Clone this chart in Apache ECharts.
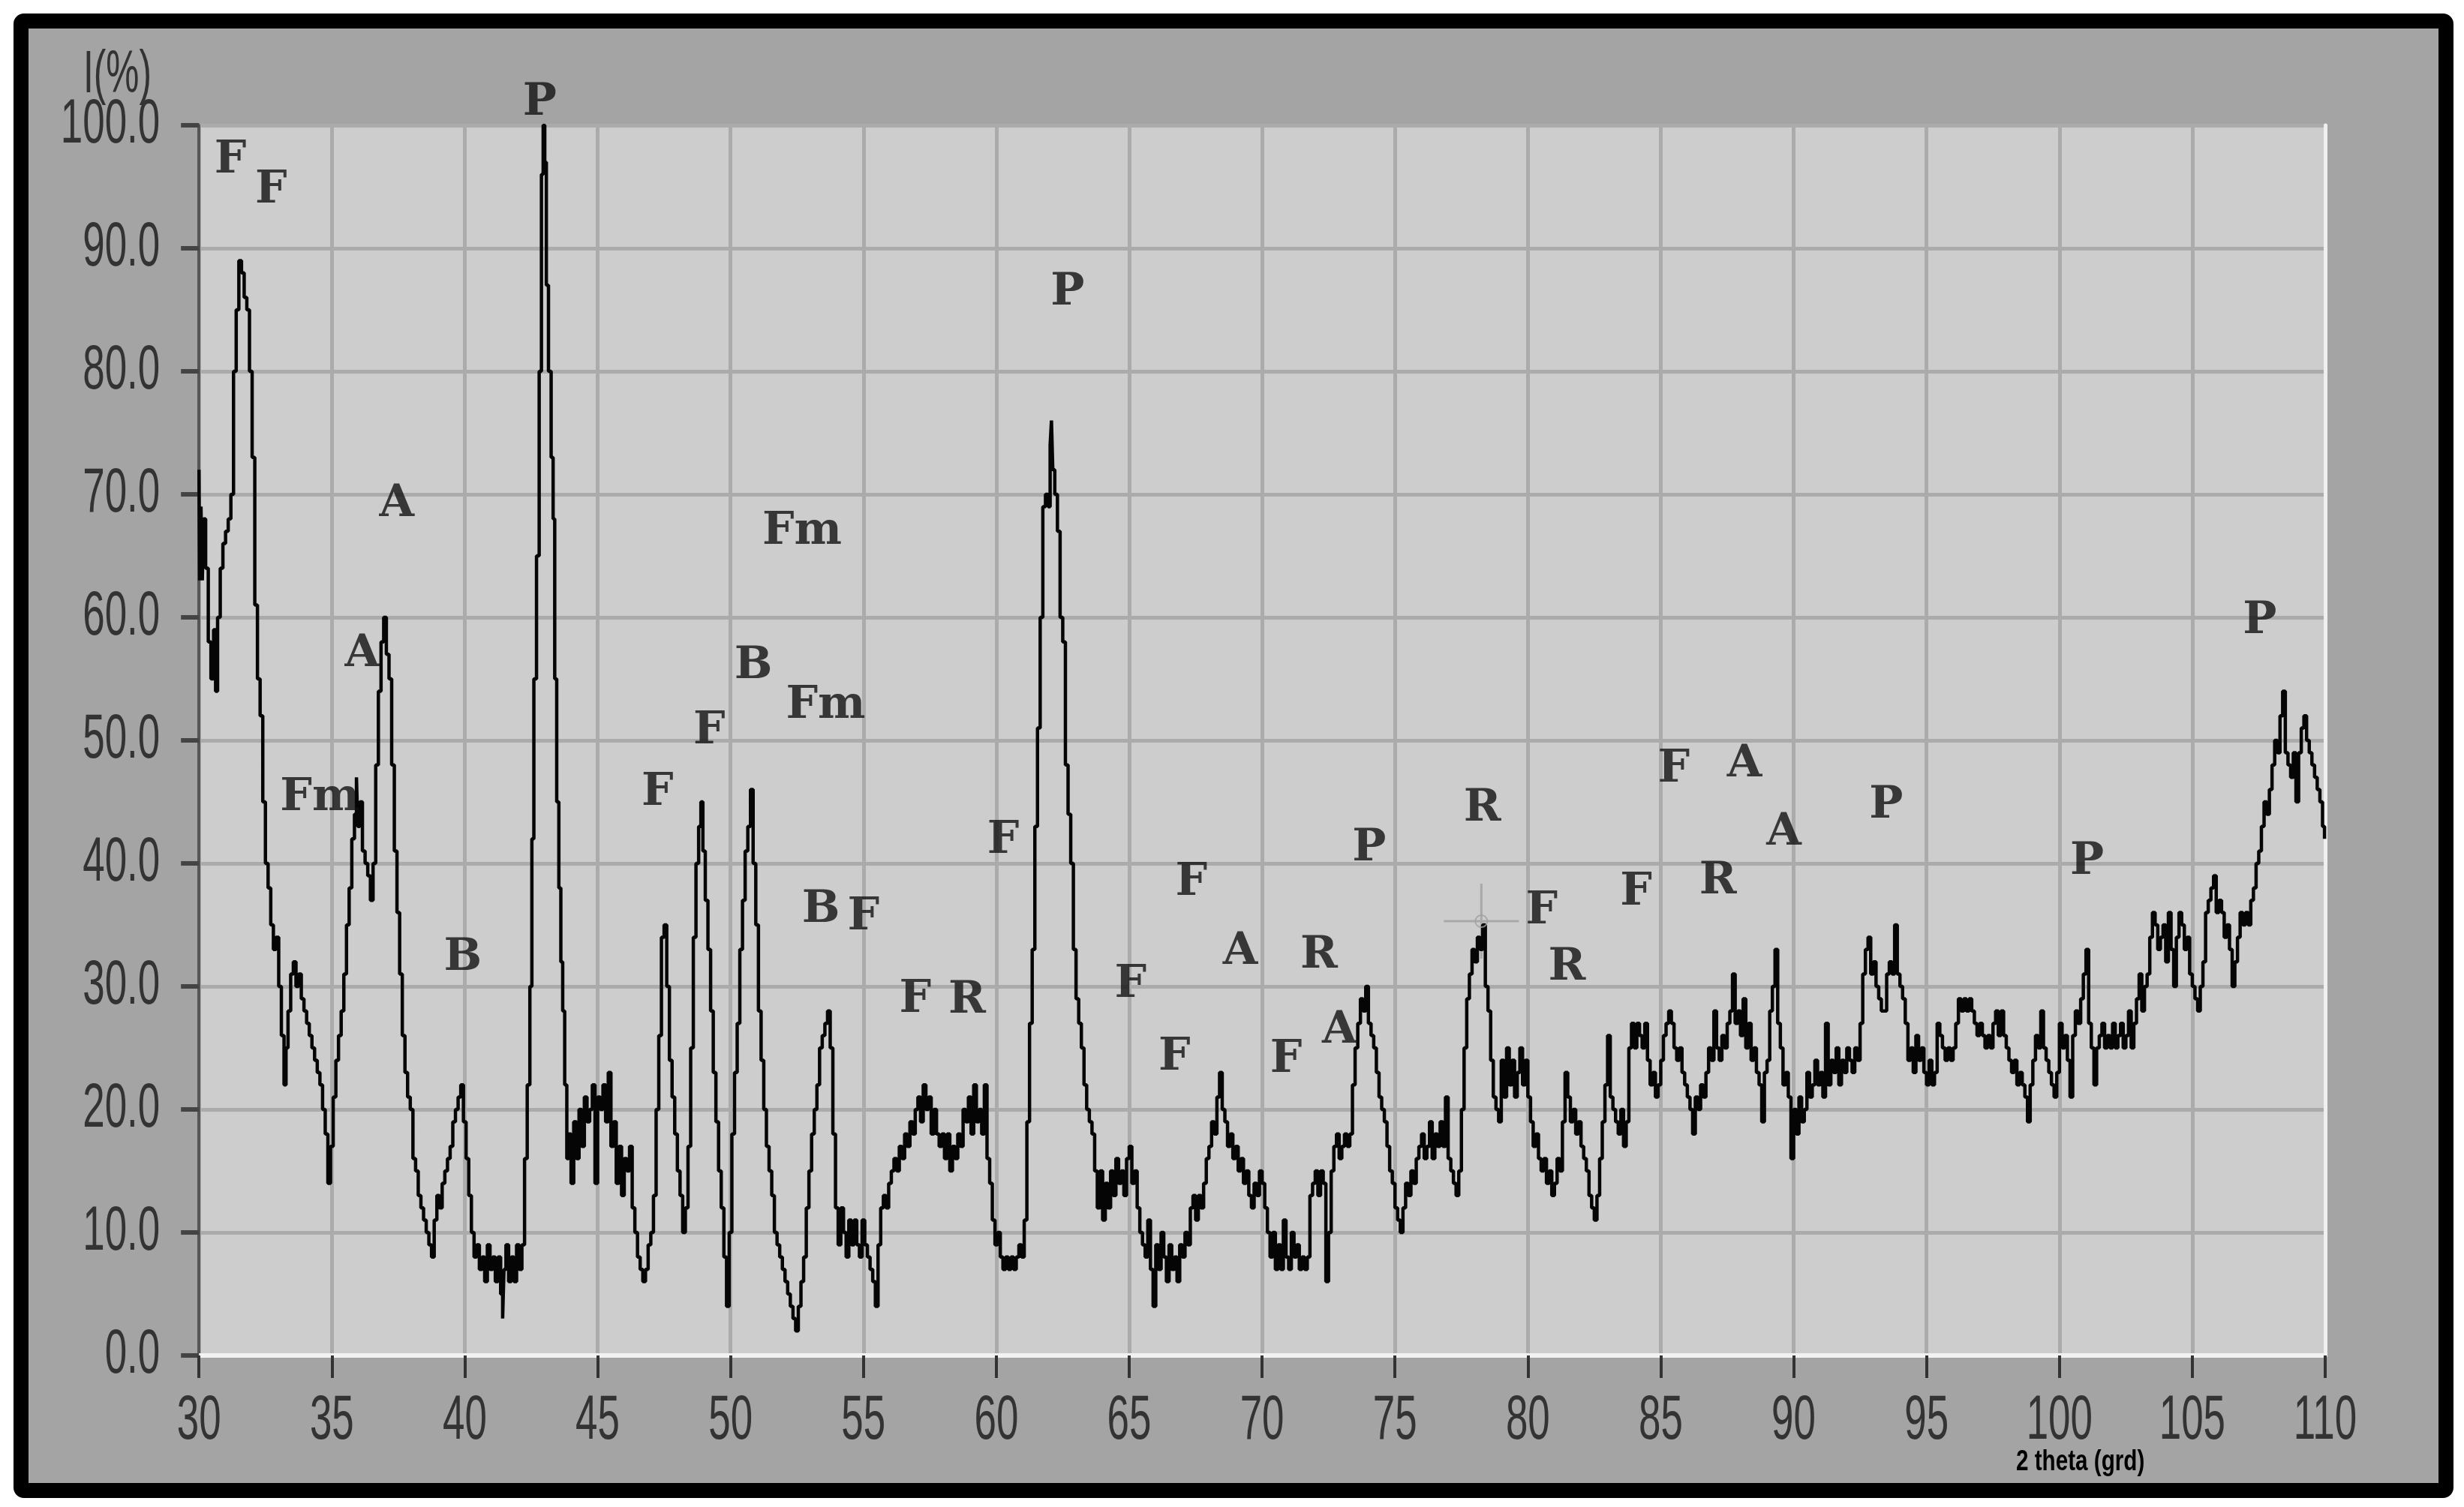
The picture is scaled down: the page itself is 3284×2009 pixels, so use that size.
<!DOCTYPE html>
<html>
<head>
<meta charset="utf-8">
<script src="https://cdn.jsdelivr.net/npm/echarts@6/dist/echarts.min.js"></script>
<style>
  html, body { margin: 0; padding: 0; background: #ffffff; }
  #frame {
    position: absolute; left: 18px; top: 18px; width: 3252px; height: 1979px;
    box-sizing: border-box; border: 20px solid #000; border-radius: 14px;
    background: #a4a4a4;
  }
  #chart { position: absolute; left: 0; top: 0; width: 3284px; height: 2009px; }
</style>
</head>
<body>
<div id="frame"></div>
<div id="chart"></div>
<script>
// ---- data (2-theta in degrees, intensity in %) ----
const pattern30to50 = [
  [30.00,72],[30.05,63],[30.10,69],[30.15,63],[30.20,68],[30.30,64],[30.40,58],[30.50,55],[30.60,59],[30.65,54],
  [30.75,60],[30.85,64],[30.95,66],[31.05,67],[31.15,68],[31.25,70],[31.35,80],[31.45,85],[31.55,89],[31.65,88],
  [31.75,86],[31.85,85],[31.95,80],[32.05,73],[32.15,61],[32.25,55],[32.35,52],[32.45,45],[32.55,40],[32.65,38],
  [32.75,35],[32.85,33],[32.95,34],[33.05,30],[33.15,26],[33.25,22],[33.30,25],[33.40,28],[33.50,31],[33.60,32],
  [33.70,30],[33.80,31],[33.90,29],[34.00,28],[34.10,27],[34.20,26],[34.30,25],[34.40,24],[34.50,23],[34.60,22],
  [34.70,20],[34.80,18],[34.90,14],[35.00,17],[35.10,21],[35.20,24],[35.30,26],[35.40,28],[35.50,31],[35.60,35],
  [35.70,38],[35.80,42],[35.90,44],[35.95,47],[36.00,43],[36.10,45],[36.20,41],[36.30,40],[36.40,39],[36.50,37],
  [36.60,40],[36.70,48],[36.80,54],[36.90,58],[37.00,60],[37.10,57],[37.20,55],[37.30,48],[37.40,41],[37.50,36],
  [37.60,31],[37.70,26],[37.80,23],[37.90,21],[38.00,20],[38.10,16],[38.20,15],[38.30,13],[38.40,12],[38.50,11],
  [38.60,10],[38.70,9],[38.80,8],[38.90,11],[39.00,13],[39.10,12],[39.20,14],[39.30,15],[39.40,16],[39.50,17],
  [39.60,19],[39.70,20],[39.80,21],[39.90,22],[40.00,19],[40.10,16],[40.20,13],[40.30,10],[40.40,8],[40.50,9],
  [40.60,7],[40.70,8],[40.80,6],[40.90,9],[41.00,7],[41.10,8],[41.20,6],[41.30,8],[41.40,5],[41.45,3],
  [41.50,7],[41.60,9],[41.70,6],[41.80,8],[41.90,6],[42.00,9],[42.10,7],[42.20,9],[42.30,16],[42.40,22],
  [42.50,30],[42.55,42],[42.65,55],[42.75,65],[42.85,80],[42.92,96],[42.98,100],[43.04,97],[43.10,87],[43.20,80],
  [43.30,73],[43.35,68],[43.42,55],[43.50,45],[43.58,38],[43.65,32],[43.72,28],[43.80,22],[43.88,16],[43.95,18],
  [44.05,14],[44.15,19],[44.25,16],[44.35,20],[44.45,17],[44.55,21],[44.65,19],[44.75,20],[44.85,22],[44.95,14],
  [45.05,21],[45.15,20],[45.25,22],[45.35,19],[45.45,23],[45.55,17],[45.65,19],[45.75,14],[45.85,17],[45.95,13],
  [46.05,16],[46.15,15],[46.25,17],[46.35,12],[46.45,10],[46.55,8],[46.65,7],[46.75,6],[46.85,7],[46.95,9],
  [47.05,10],[47.15,13],[47.25,20],[47.35,26],[47.45,34],[47.55,35],[47.65,30],[47.75,24],[47.85,21],[47.95,18],
  [48.05,15],[48.15,13],[48.25,10],[48.35,12],[48.45,17],[48.55,25],[48.65,34],[48.75,40],[48.85,43],[48.92,45],
  [49.00,41],[49.10,37],[49.20,33],[49.30,28],[49.40,23],[49.50,19],[49.60,15],[49.70,12],[49.80,8],[49.90,4]
];
const pattern50to70 = [
  [50.00,10],[50.10,18],[50.20,23],[50.30,27],[50.40,33],[50.50,37],[50.60,41],[50.70,43],[50.80,46],[50.90,40],
  [51.00,35],[51.10,28],[51.20,24],[51.30,20],[51.40,17],[51.50,15],[51.60,13],[51.70,10],[51.80,9],[51.90,8],
  [52.00,7],[52.10,6],[52.20,5],[52.30,4],[52.40,3],[52.50,2],[52.60,4],[52.70,6],[52.80,8],[52.90,12],
  [53.00,15],[53.10,18],[53.20,20],[53.30,22],[53.40,25],[53.50,26],[53.60,27],[53.70,28],[53.80,25],[53.90,18],
  [54.00,12],[54.10,9],[54.20,12],[54.30,10],[54.40,8],[54.50,11],[54.60,9],[54.70,11],[54.80,9],[54.90,8],
  [55.00,11],[55.10,9],[55.20,8],[55.30,7],[55.40,6],[55.50,4],[55.60,9],[55.70,12],[55.80,13],[55.90,12],
  [56.00,14],[56.10,15],[56.20,16],[56.30,15],[56.40,17],[56.50,16],[56.60,18],[56.70,17],[56.80,19],[56.90,18],
  [57.00,20],[57.10,21],[57.20,19],[57.30,22],[57.40,20],[57.50,21],[57.60,18],[57.70,20],[57.80,18],[57.90,17],
  [58.00,18],[58.10,16],[58.20,18],[58.30,15],[58.40,17],[58.50,16],[58.60,18],[58.70,17],[58.80,20],[58.90,19],
  [59.00,21],[59.10,18],[59.20,22],[59.30,19],[59.40,20],[59.50,18],[59.60,22],[59.70,16],[59.80,14],[59.90,11],
  [60.00,9],[60.10,10],[60.20,8],[60.30,7],[60.40,8],[60.50,7],[60.60,8],[60.70,7],[60.80,8],[60.90,9],
  [61.00,8],[61.10,11],[61.20,19],[61.30,27],[61.40,33],[61.50,43],[61.60,51],[61.70,60],[61.80,69],[61.90,70],
  [62.00,69],[62.05,74],[62.10,76],[62.15,72],[62.25,70],[62.35,67],[62.45,60],[62.55,58],[62.65,48],[62.75,44],
  [62.85,40],[62.95,33],[63.05,29],[63.15,27],[63.25,25],[63.35,22],[63.45,20],[63.55,19],[63.65,18],[63.75,15],
  [63.85,12],[63.95,15],[64.05,11],[64.15,14],[64.25,12],[64.35,15],[64.45,13],[64.55,16],[64.65,14],[64.75,15],
  [64.85,13],[64.95,16],[65.05,17],[65.15,14],[65.25,15],[65.35,12],[65.45,10],[65.55,9],[65.65,8],[65.75,11],
  [65.85,7],[65.95,4],[66.05,9],[66.15,7],[66.25,10],[66.35,8],[66.45,6],[66.55,9],[66.65,7],[66.75,8],
  [66.85,6],[66.95,9],[67.05,8],[67.15,10],[67.25,9],[67.35,12],[67.45,13],[67.55,11],[67.65,13],[67.75,12],
  [67.85,14],[67.95,16],[68.05,17],[68.15,19],[68.25,18],[68.35,21],[68.45,23],[68.55,20],[68.65,19],[68.75,17],
  [68.85,18],[68.95,16],[69.05,17],[69.15,15],[69.25,16],[69.35,14],[69.45,15],[69.55,13],[69.65,12],[69.75,14],
  [69.85,13],[69.95,15]
];
const pattern70to90 = [
  [70.05,14],[70.15,12],[70.25,10],[70.35,8],[70.45,10],[70.55,7],[70.65,9],[70.75,7],[70.85,11],[70.95,8],
  [71.05,7],[71.15,10],[71.25,8],[71.35,9],[71.45,7],[71.55,8],[71.65,7],[71.75,8],[71.85,13],[71.95,14],
  [72.05,15],[72.15,13],[72.25,15],[72.35,14],[72.45,6],[72.55,10],[72.65,15],[72.75,17],[72.85,18],[72.95,16],
  [73.05,17],[73.15,18],[73.25,17],[73.35,18],[73.45,22],[73.55,25],[73.65,27],[73.75,29],[73.85,28],[73.95,30],
  [74.05,27],[74.15,26],[74.25,25],[74.35,23],[74.45,21],[74.55,20],[74.65,19],[74.75,17],[74.85,15],[74.95,14],
  [75.05,12],[75.15,11],[75.25,10],[75.35,12],[75.45,14],[75.55,13],[75.65,15],[75.75,14],[75.85,16],[75.95,17],
  [76.05,18],[76.15,16],[76.25,17],[76.35,19],[76.45,16],[76.55,18],[76.65,17],[76.75,19],[76.85,17],[76.95,21],
  [77.05,16],[77.15,15],[77.25,14],[77.35,13],[77.45,15],[77.55,20],[77.65,25],[77.75,29],[77.85,31],[77.95,33],
  [78.05,32],[78.15,34],[78.25,33],[78.35,35],[78.45,30],[78.55,28],[78.65,24],[78.75,21],[78.85,20],[78.95,19],
  [79.05,24],[79.15,21],[79.25,25],[79.35,22],[79.45,24],[79.55,21],[79.65,23],[79.75,25],[79.85,22],[79.95,24],
  [80.05,21],[80.15,19],[80.25,17],[80.35,18],[80.45,16],[80.55,15],[80.65,16],[80.75,14],[80.85,15],[80.95,13],
  [81.05,14],[81.15,16],[81.25,15],[81.35,19],[81.45,23],[81.55,21],[81.65,19],[81.75,20],[81.85,18],[81.95,19],
  [82.05,17],[82.15,16],[82.25,15],[82.35,13],[82.45,12],[82.55,11],[82.65,13],[82.75,16],[82.85,19],[82.95,22],
  [83.05,26],[83.15,21],[83.25,20],[83.35,19],[83.45,18],[83.55,20],[83.65,17],[83.75,19],[83.85,25],[83.95,27],
  [84.05,25],[84.15,27],[84.25,26],[84.35,25],[84.45,27],[84.55,24],[84.65,22],[84.75,23],[84.85,21],[84.95,22],
  [85.05,24],[85.15,26],[85.25,27],[85.35,28],[85.45,27],[85.55,25],[85.65,24],[85.75,25],[85.85,23],[85.95,22],
  [86.05,21],[86.15,20],[86.25,18],[86.35,21],[86.45,20],[86.55,22],[86.65,21],[86.75,23],[86.85,25],[86.95,24],
  [87.05,28],[87.15,25],[87.25,24],[87.35,26],[87.45,25],[87.55,27],[87.65,28],[87.75,31],[87.85,27],[87.95,28],
  [88.05,26],[88.15,29],[88.25,25],[88.35,27],[88.45,24],[88.55,25],[88.65,23],[88.75,22],[88.85,19],[88.95,23],
  [89.05,24],[89.15,28],[89.25,30],[89.35,33],[89.45,27],[89.55,25],[89.65,22],[89.75,23],[89.85,21],[89.95,16]
];
const pattern90to110 = [
  [90.05,20],[90.15,18],[90.25,21],[90.35,19],[90.45,20],[90.55,23],[90.65,21],[90.75,22],[90.85,24],[90.95,22],
  [91.05,23],[91.15,21],[91.25,27],[91.35,22],[91.45,24],[91.55,23],[91.65,25],[91.75,22],[91.85,24],[91.95,23],
  [92.05,25],[92.15,24],[92.25,23],[92.35,25],[92.45,24],[92.55,27],[92.65,31],[92.75,33],[92.85,34],[92.95,31],
  [93.05,32],[93.15,30],[93.25,29],[93.35,28],[93.45,28],[93.55,31],[93.65,32],[93.75,31],[93.85,35],[93.95,31],
  [94.05,30],[94.15,29],[94.25,27],[94.35,24],[94.45,25],[94.55,23],[94.65,26],[94.75,24],[94.85,25],[94.95,23],
  [95.05,22],[95.15,24],[95.25,22],[95.35,23],[95.45,27],[95.55,26],[95.65,25],[95.75,24],[95.85,25],[95.95,24],
  [96.05,25],[96.15,27],[96.25,29],[96.35,28],[96.45,29],[96.55,28],[96.65,29],[96.75,28],[96.85,27],[96.95,26],
  [97.05,27],[97.15,26],[97.25,25],[97.35,26],[97.45,25],[97.55,27],[97.65,28],[97.75,26],[97.85,28],[97.95,26],
  [98.05,25],[98.15,24],[98.25,23],[98.35,24],[98.45,22],[98.55,23],[98.65,22],[98.75,21],[98.85,19],[98.95,22],
  [99.05,24],[99.15,26],[99.25,25],[99.35,28],[99.45,25],[99.55,24],[99.65,23],[99.75,22],[99.85,21],[99.95,23],
  [100.05,27],[100.15,25],[100.25,26],[100.35,24],[100.45,21],[100.55,26],[100.65,28],[100.75,27],[100.85,29],[100.95,31],
  [101.05,33],[101.15,27],[101.25,25],[101.35,22],[101.45,25],[101.55,26],[101.65,27],[101.75,25],[101.85,26],[101.95,25],
  [102.05,27],[102.15,25],[102.25,26],[102.35,27],[102.45,25],[102.55,26],[102.65,28],[102.75,25],[102.85,27],[102.95,29],
  [103.05,31],[103.15,28],[103.25,30],[103.35,31],[103.45,34],[103.55,36],[103.65,35],[103.75,33],[103.85,34],[103.95,35],
  [104.05,32],[104.15,36],[104.25,33],[104.35,30],[104.45,34],[104.55,36],[104.65,35],[104.75,33],[104.85,34],[104.95,31],
  [105.05,30],[105.15,29],[105.25,28],[105.35,30],[105.45,32],[105.55,36],[105.65,37],[105.75,38],[105.85,39],[105.95,36],
  [106.05,37],[106.15,36],[106.25,34],[106.35,35],[106.45,33],[106.55,30],[106.65,32],[106.75,34],[106.85,36],[106.95,35],
  [107.05,36],[107.15,35],[107.25,37],[107.35,38],[107.45,40],[107.55,41],[107.65,43],[107.75,45],[107.85,44],[107.95,46],
  [108.05,48],[108.15,50],[108.25,49],[108.35,52],[108.45,54],[108.55,49],[108.65,48],[108.75,47],[108.85,49],[108.95,45],
  [109.05,49],[109.15,51],[109.25,52],[109.35,50],[109.45,49],[109.55,48],[109.65,47],[109.75,46],[109.85,45],[109.95,43],
  [110.00,42]
];
// phase labels: [2theta, intensity position, text]
const peakLabels = [
  [31.18,97.1,'F'],[32.71,94.7,'F'],[42.82,101.8,'P'],[37.44,69.2,'A'],[36.14,57.0,'A'],
  [34.55,45.3,'Fm'],[39.93,32.3,'B'],[47.25,45.7,'F'],[49.20,50.7,'F'],[50.86,56.0,'B'],
  [52.69,66.9,'Fm'],[53.58,52.8,'Fm'],[53.40,36.2,'B'],[55.00,35.6,'F'],[56.95,28.9,'F'],
  [58.90,28.8,'R'],[60.26,41.8,'F'],[62.68,86.4,'P'],[65.05,30.1,'F'],[66.70,24.2,'F'],
  [67.34,38.4,'F'],[69.18,32.8,'A'],[70.90,24.0,'F'],[72.14,32.5,'R'],[72.91,26.4,'A'],
  [74.03,41.2,'P'],[78.29,44.4,'R'],[80.52,36.1,'F'],[81.47,31.5,'R'],[84.07,37.6,'F'],
  [85.49,47.6,'F'],[88.15,48.0,'A'],[87.15,38.5,'R'],[89.63,42.5,'A'],[93.48,44.7,'P'],
  [101.04,40.1,'P'],[107.54,59.7,'P']
];
const cursorPoint = [[78.25, 35.3]];
const xTicks = { min: 30, max: 110, step: 5 };
const yTicks = { min: 0, max: 100, step: 10 };

const pattern = [].concat(pattern30to50, pattern50to70, pattern70to90, pattern90to110);
const sans = "'Liberation Sans', Arial, sans-serif";
const slab = "'DejaVu Serif', serif";

const chart = echarts.init(document.getElementById('chart'), null, { renderer: 'canvas' });
chart.setOption({
  animation: false,
  backgroundColor: 'transparent',
  title: [
    { text: 'I(%)', left: 106, top: 56,
      textStyle: { fontFamily: sans, fontSize: 80, fontWeight: 'normal', color: '#333' } },
    { text: '2 theta (grd)', left: 2682, top: 1926,
      textStyle: { fontFamily: sans, fontSize: 38, fontWeight: 'bold', color: '#000' } }
  ],
  grid: { left: 261, right: 185, top: 167, bottom: 202, show: true,
          backgroundColor: '#cdcdcd', borderWidth: 0 },
  xAxis: {
    type: 'value', min: xTicks.min, max: xTicks.max, interval: xTicks.step,
    axisLine: { show: true, lineStyle: { color: '#f2f2f2', width: 6 } },
    axisTick: { show: true, inside: false, length: 30, lineStyle: { color: '#333', width: 4 } },
    axisLabel: { margin: 46, fontFamily: sans, fontSize: 84, color: '#333' },
    splitLine: { show: true, lineStyle: { color: '#ababab', width: 5 } }
  },
  yAxis: [{
    type: 'value', min: yTicks.min, max: yTicks.max, interval: yTicks.step,
    axisLine: { show: true, lineStyle: { color: '#555', width: 4 } },
    axisTick: { show: true, inside: false, length: 24, lineStyle: { color: '#444', width: 6 } },
    axisLabel: { margin: 52, fontFamily: sans, fontSize: 84, color: '#333',
                 formatter: v => v.toFixed(1) },
    splitLine: { show: true, lineStyle: { color: '#ababab', width: 5 } }
  }, {
    type: 'value', position: 'right', min: yTicks.min, max: yTicks.max,
    axisLine: { show: true, lineStyle: { color: '#efefef', width: 5 } },
    axisTick: { show: false }, axisLabel: { show: false }, splitLine: { show: false }
  }],
  series: [
    {
      type: 'line', data: pattern, step: 'middle', showSymbol: false, symbol: 'none',
      lineStyle: { color: '#050505', width: 4.5 }, z: 3
    },
    {
      type: 'scatter', data: cursorPoint, symbol: 'path://M0,50L100,50M50,0L50,100',
      symbolSize: 100, itemStyle: { color: 'none', borderColor: '#a0a0a0', borderWidth: 3 }, z: 2
    },
    {
      type: 'scatter', data: cursorPoint, symbol: 'circle', symbolSize: 16,
      itemStyle: { color: 'none', borderColor: '#a0a0a0', borderWidth: 2 }, z: 4
    },
    {
      type: 'scatter', clip: false, symbolSize: 0, z: 5,
      data: peakLabels.map(d => ({ value: [d[0], d[1]], name: d[2] })),
      label: { show: true, position: 'inside', formatter: p => p.name,
               fontFamily: slab, fontWeight: 'bold', fontSize: 60, color: '#111' }
    }
  ]
});

// The original uses a condensed (narrow) face for its axis text; no such face is
// installed, so squeeze the library's own text elements horizontally.
const squeeze = { 'I(%)': 0.62, '2 theta (grd)': 0.78 };
try {
  chart.getZr().storage.traverse(function (el) {
    if (el.type !== 'text' || !el.style) return;
    const t = String(el.style.text);
    let s = null;
    if (squeeze[t] !== undefined) s = squeeze[t];
    else if (/^\d+(\.\d)?$/.test(t)) s = 0.63;
    if (s !== null) el.attr({ scaleX: s });
  });
  chart.getZr().refreshImmediately();
} catch (e) { /* keep default rendering */ }
</script>
</body>
</html>
